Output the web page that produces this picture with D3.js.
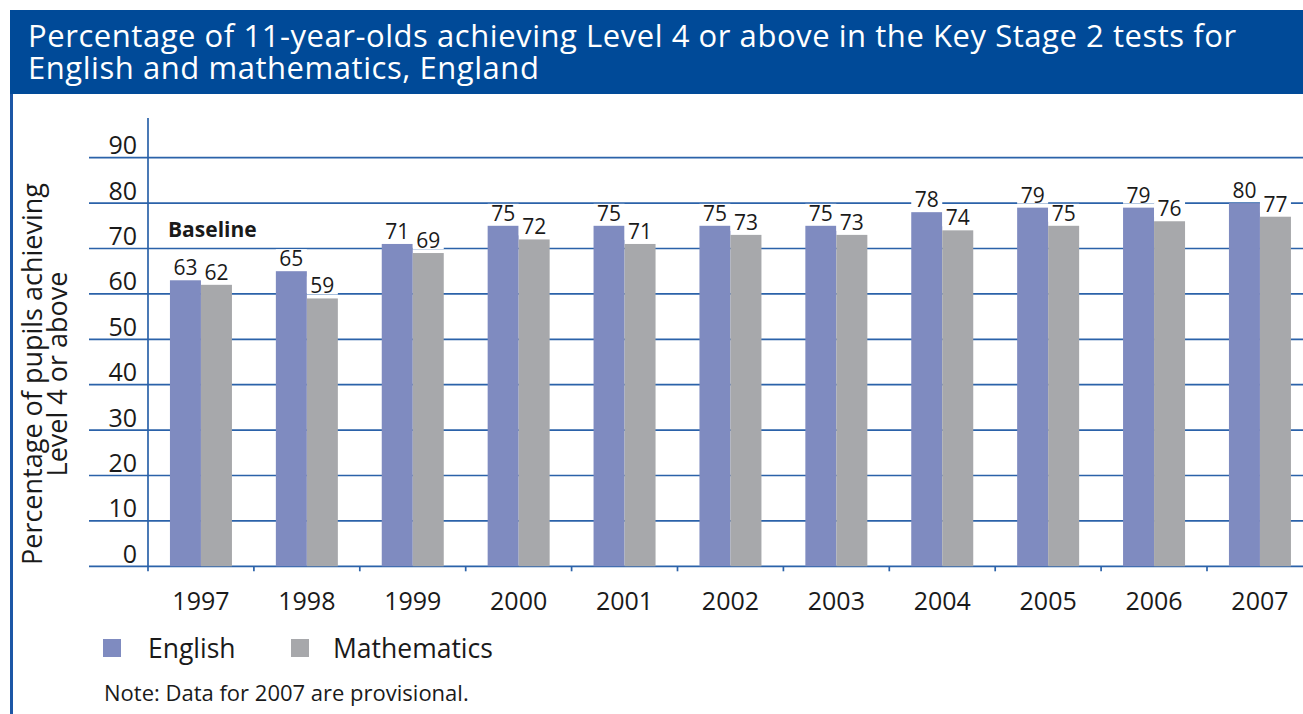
<!DOCTYPE html>
<html>
<head>
<meta charset="utf-8">
<script src="https://cdn.jsdelivr.net/npm/d3@7"></script>
<style>
  html, body { margin: 0; padding: 0; background: #fff; }
  svg { display: block; font-family: "Open Sans", "Noto Sans", sans-serif; }
</style>
</head>
<body>
<svg id="chart" width="1303" height="714"></svg>
<script>
// Key Stage 2 results, Level 4 or above (%)
const years = ["1997", "1998", "1999", "2000", "2001", "2002", "2003", "2004", "2005", "2006", "2007"];
const english = [63, 65, 71, 75, 75, 75, 75, 78, 79, 79, 80];
const maths = [62, 59, 69, 72, 71, 73, 73, 74, 75, 76, 77];
const yTicks = [0, 10, 20, 30, 40, 50, 60, 70, 80, 90];
const seriesNames = ["English", "Mathematics"];
const titleLines = [
  "Percentage of 11-year-olds achieving Level 4 or above in the Key Stage 2 tests for",
  "English and mathematics, England"
];
const yTitleLines = ["Percentage of pupils achieving", "Level 4 or above"];
const note = "Note: Data for 2007 are provisional.";
const baselineLabel = "Baseline";

const colors = { English: "#7f8bc0", Mathematics: "#a7a8ab" };
const blue = "#004a98";
const gridBlue = "#2b62a9";

const svg = d3.select("#chart");

// Header band and panel frame
svg.append("rect").attr("x", 10).attr("y", 10).attr("width", 1293).attr("height", 84).attr("fill", blue);
svg.append("rect").attr("x", 10).attr("y", 94).attr("width", 3).attr("height", 620).attr("fill", "#1d57a6");

svg.append("g").selectAll("text").data(titleLines).join("text")
  .attr("x", 28).attr("y", (d, i) => 46.5 + i * 32.5)
  .attr("fill", "#fff").attr("font-size", 31).attr("letter-spacing", 0.55)
  .text(d => d);

// Scales
const x = d3.scaleBand().domain(years).range([148, 148 + 11 * 105.9]).paddingInner(0).paddingOuter(0);
const y = d3.scaleLinear().domain([0, 100]).range([566.3, 112.3]);
const barW = 31;
const inner = d3.scaleBand().domain(seriesNames).range([0, barW * 2]);

// Gridlines
svg.append("g").selectAll("line").data(yTicks).join("line")
  .attr("x1", 89).attr("x2", 1303)
  .attr("y1", d => y(d)).attr("y2", d => y(d))
  .attr("stroke", gridBlue).attr("stroke-width", 1.7);

// Y tick labels (set above their lines)
svg.append("g").selectAll("text").data(yTicks).join("text")
  .attr("x", 137).attr("y", d => y(d) - 3.5)
  .attr("text-anchor", "end").attr("font-size", 25).attr("fill", "#1a1a1a")
  .text(d => d);

// Y axis line and x tick marks
svg.append("line").attr("x1", 148).attr("x2", 148).attr("y1", 118).attr("y2", y(0) + 5)
  .attr("stroke", gridBlue).attr("stroke-width", 1.7);
svg.append("g").selectAll("line").data(years).join("line")
  .attr("x1", d => x(d) + x.bandwidth())
  .attr("x2", d => x(d) + x.bandwidth())
  .attr("y1", y(0)).attr("y2", y(0) + 5)
  .attr("stroke", gridBlue).attr("stroke-width", 1.7);

// Bars
const rows = years.map((yr, i) => ({ year: yr, values: [
  { series: "English", value: english[i] },
  { series: "Mathematics", value: maths[i] }
]}));
const groups = svg.append("g").selectAll("g").data(rows).join("g")
  .attr("transform", d => `translate(${x(d.year) + (x.bandwidth() - barW * 2) / 2},0)`);

groups.selectAll("rect.bar").data(d => d.values).join("rect")
  .attr("class", "bar")
  .attr("x", d => inner(d.series)).attr("width", inner.bandwidth())
  .attr("y", d => y(d.value)).attr("height", d => y(0) - y(d.value))
  .attr("fill", d => colors[d.series]);

// Value labels on white tags
groups.selectAll("rect.tag").data(d => d.values).join("rect")
  .attr("class", "tag")
  .attr("x", d => inner(d.series)).attr("width", inner.bandwidth())
  .attr("y", d => y(d.value) - 5 - 17).attr("height", 18)
  .attr("fill", "#fff");
groups.selectAll("text").data(d => d.values).join("text")
  .attr("x", d => inner(d.series) + inner.bandwidth() / 2)
  .attr("y", d => y(d.value) - 5)
  .attr("text-anchor", "middle").attr("font-size", 21).attr("fill", "#1a1a1a")
  .text(d => d.value);

// Baseline marker over the first year
svg.append("text").attr("x", 168).attr("y", 236.5)
  .attr("font-size", 21).attr("font-weight", "bold").attr("fill", "#1a1a1a")
  .text(baselineLabel);

// X category labels
svg.append("g").selectAll("text").data(years).join("text")
  .attr("x", d => x(d) + x.bandwidth() / 2).attr("y", 610)
  .attr("text-anchor", "middle").attr("font-size", 25).attr("fill", "#1a1a1a")
  .text(d => d);

// Y axis title
const yTitle = svg.append("text")
  .attr("transform", "translate(0,374) rotate(-90)")
  .attr("text-anchor", "middle").attr("font-size", 27).attr("fill", "#1a1a1a");
yTitle.selectAll("tspan").data(yTitleLines).join("tspan")
  .attr("x", 0).attr("y", (d, i) => 42 + i * 25)
  .text(d => d);

// Legend
const legendX = [103, 291];
const legendTextX = [148, 333];
const legend = svg.append("g").selectAll("g").data(seriesNames).join("g");
legend.append("rect")
  .attr("x", (d, i) => legendX[i]).attr("y", 639).attr("width", 18).attr("height", 18)
  .attr("fill", d => colors[d]);
legend.append("text")
  .attr("x", (d, i) => legendTextX[i]).attr("y", 657.5)
  .attr("font-size", 26.5).attr("fill", "#1a1a1a").text(d => d);

// Footnote
svg.append("text").attr("x", 104).attr("y", 700.5)
  .attr("font-size", 22).attr("fill", "#1a1a1a").text(note);
</script>
</body>
</html>
